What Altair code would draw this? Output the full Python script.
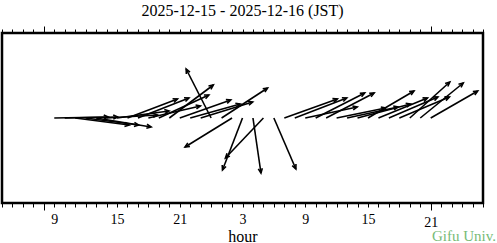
import altair as alt
import pandas as pd

# ---- data ----
title_text = "2025-12-15 - 2025-12-16 (JST)"
credit = ["Gifu Univ."]

# hours since 2025-12-15 00:00 JST
hours = list(range(9, 46))
# wind components (east, north)
u = [5.4, 5.3, 5.4, 5.3, 5.5, 5.1, 5.2, 5.0, 5.1, 5.2, 5.0, 4.4, 5.1, 5.0, 5.2,
     -2.5, 4.6, -4.7, -2.0, 0.8, -3.8, 2.2,
     5.3, 5.2, 5.2, 4.9, 4.8, 4.9, 5.1, 5.3, 4.6, 4.9, 4.9, 5.0, 4.0, 4.3, 4.7]
v = [0.1, 0.1, -0.7, -0.7, -0.9, 0.3, 0.7, 1.9, 2.0, 1.2, 2.3, 3.3, 1.8, 1.4, 1.6,
     4.9, 3.0, -2.9, -5.2, -5.5, -4.0, -5.1,
     1.9, 2.0, 1.1, 2.5, 2.5, 1.0, 1.1, 1.4, 2.7, 2.0, 2.1, 2.1, 3.6, 3.5, 2.7]

x_domain = [4, 50]
y_domain = [-8.5, 8.5]
tick_values = list(range(4, 51))
long_ticks = [8, 45]

# ---- layout ----
W, H = 481, 170
PX_PER_HOUR = W / (x_domain[1] - x_domain[0])
PX_PER_UNIT = H / (y_domain[1] - y_domain[0])
SERIF = "Liberation Serif"

df = pd.DataFrame({"hour": hours, "u": u, "v": v})

base = alt.Chart(df).transform_calculate(
    xe=f"datum.hour + datum.u * {PX_PER_UNIT / PX_PER_HOUR}",
    ye="datum.v",
    y0="0",
    ang="(atan2(-datum.v, datum.u) * 180 / PI + 360) % 360",
)

xscale = alt.Scale(domain=x_domain, nice=False, zero=False)
yscale = alt.Scale(domain=y_domain, nice=False, zero=False)

long_test = " || ".join(f"datum.value == {t}" for t in long_ticks)
tick_size = {"condition": {"test": long_test, "value": 7}, "value": 4}

bottom_axis = alt.Axis(
    orient="bottom", values=tick_values, domain=False, grid=False,
    tickSize=tick_size, tickColor="black", tickWidth=1,
    labelExpr="(datum.value - 9) % 6 == 0 ? '' + (datum.value % 24) : ''",
    labelOverlap=False, labelFont=SERIF, labelFontSize=14, labelColor="black",
    labelPadding=5, labelFlush=False,
    title="hour", titleFont=SERIF, titleFontSize=16, titleFontWeight="normal",
    titleColor="black", titlePadding=-1,
)
top_axis = alt.Axis(
    orient="top", values=tick_values, domain=False, grid=False,
    tickSize=tick_size, tickColor="black", tickWidth=1,
    labels=False, title="",
)

sticks = base.mark_rule(color="black", strokeWidth=1.6).encode(
    x=alt.X("hour:Q", scale=xscale, axis=bottom_axis),
    x2="xe:Q",
    y=alt.Y("y0:Q", scale=yscale, axis=None),
    y2="ye:Q",
)

heads = base.mark_point(
    shape="M-1,-0.45L0,0L-1,0.45", size=81, filled=False,
    color="black", strokeWidth=1.6, opacity=1,
).encode(
    x=alt.X("xe:Q", scale=xscale, axis=top_axis),
    y=alt.Y("ye:Q", scale=yscale, axis=None),
    angle=alt.Angle("ang:Q", scale=alt.Scale(domain=[0, 360], range=[0, 360])),
)

credit_layer = alt.Chart(pd.DataFrame({"label": credit})).mark_text(
    font=SERIF, fontSize=15, color="#77bb77", align="right", baseline="alphabetic",
).encode(
    text="label:N",
    x=alt.value(W + 13),
    y=alt.value(H + 37.5),
)

chart = alt.layer(sticks, heads, credit_layer).resolve_axis(
    x="independent"
).properties(
    width=W, height=H,
    title=alt.Title(title_text, font=SERIF, fontSize=16, fontWeight="normal",
                    color="black", offset=7, anchor="middle"),
    autosize=alt.AutoSizeParams(type="none"),
    padding={"left": 2, "top": 33, "right": 14, "bottom": 40},
).configure(
    background="white",
).configure_view(
    stroke="black", strokeWidth=2.5,
)

chart.save("out.html", embed_options={"renderer": "svg", "actions": False})
